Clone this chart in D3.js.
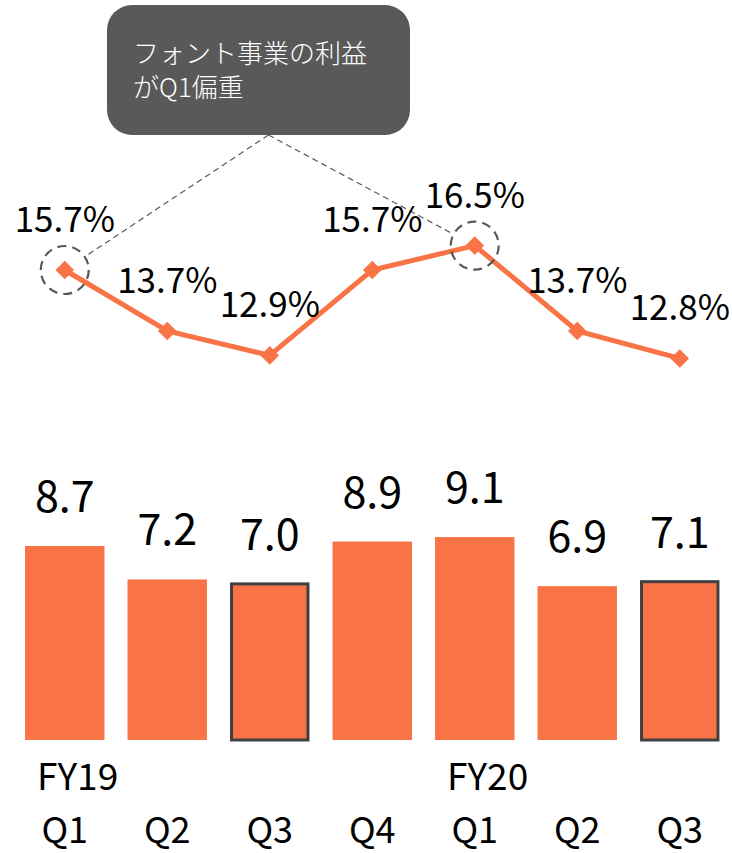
<!DOCTYPE html>
<html>
<head>
<meta charset="utf-8">
<script src="https://cdn.jsdelivr.net/npm/d3@7"></script>
<style>
  body { margin: 0; background: #fff; }
  svg { display: block; font-family: "Noto Sans CJK JP", "Noto Sans", sans-serif; }
</style>
</head>
<body>
<svg id="chart" width="732" height="853"></svg>
<script>
// Data
const quarters = ['Q1', 'Q2', 'Q3', 'Q4', 'Q1', 'Q2', 'Q3'];
const fiscalYears = ['FY19', '', '', '', 'FY20', '', ''];
const sales = [8.7, 7.2, 7.0, 8.9, 9.1, 6.9, 7.1];
const margins = [15.7, 13.7, 12.9, 15.7, 16.5, 13.7, 12.8];
const highlighted = [false, false, true, false, false, false, true]; // outlined bars (Q3)
const circled = [0, 4]; // points called out
const calloutLines = ['フォント事業の利益', 'がQ1偏重'];

const ORANGE = '#f87346';
const DARK = '#595959';

const svg = d3.select('#chart');
const idx = d3.range(quarters.length);

const x = d3.scaleBand()
  .domain(idx)
  .range([13.5, 731])
  .paddingInner(0.225)
  .paddingOuter(0.1125);

const yBar = d3.scaleLinear().domain([0, 10]).range([740, 517]);
const yLine = d3.scaleLinear().domain([10, 17]).range([443.85, 230.35]);
const cx = i => x(i) + x.bandwidth() / 2;

// Bars
svg.append('g').attr('class', 'bars')
  .selectAll('rect')
  .data(idx)
  .join('rect')
  .attr('x', i => x(i) + (highlighted[i] ? 1.5 : 0))
  .attr('y', i => yBar(sales[i]))
  .attr('width', i => x.bandwidth() - (highlighted[i] ? 3 : 0))
  .attr('height', i => yBar(0) - yBar(sales[i]))
  .attr('fill', ORANGE)
  .attr('stroke', i => (highlighted[i] ? '#404040' : 'none'))
  .attr('stroke-width', 3);

svg.append('g').attr('class', 'bar-labels')
  .selectAll('text')
  .data(idx)
  .join('text')
  .attr('x', cx)
  .attr('y', i => yBar(sales[i]) - 34)
  .attr('text-anchor', 'middle')
  .attr('font-size', 43)
  .attr('fill', '#000')
  .text(i => sales[i].toFixed(1));

// Axis labels
svg.append('g').attr('class', 'fy-labels')
  .selectAll('text')
  .data(idx.filter(i => fiscalYears[i]))
  .join('text')
  .attr('x', i => x(i) + 12)
  .attr('y', 790)
  .attr('font-size', 37)
  .text(i => fiscalYears[i]);

svg.append('g').attr('class', 'q-labels')
  .selectAll('text')
  .data(idx)
  .join('text')
  .attr('x', cx)
  .attr('y', 843)
  .attr('text-anchor', 'middle')
  .attr('font-size', 36)
  .text(i => quarters[i]);

// Callout
const box = { x: 107, y: 5, w: 303, h: 130 };
const anchor = [box.x + box.w / 2 + 10, box.y + box.h];
const R = 24;

svg.append('g').attr('class', 'callout-lines')
  .selectAll('line')
  .data(circled)
  .join('line')
  .attr('x1', anchor[0])
  .attr('y1', anchor[1])
  .attr('x2', i => {
    const dx = cx(i) - anchor[0], dy = yLine(margins[i]) - anchor[1];
    const d = Math.hypot(dx, dy);
    return cx(i) - dx / d * R;
  })
  .attr('y2', i => {
    const dx = cx(i) - anchor[0], dy = yLine(margins[i]) - anchor[1];
    const d = Math.hypot(dx, dy);
    return yLine(margins[i]) - dy / d * R;
  })
  .attr('stroke', DARK)
  .attr('stroke-width', 1.2)
  .attr('stroke-dasharray', '6,4');

svg.append('rect')
  .attr('x', box.x)
  .attr('y', box.y)
  .attr('width', box.w)
  .attr('height', box.h)
  .attr('rx', 25)
  .attr('fill', DARK);

svg.append('g').attr('class', 'callout-text')
  .selectAll('text')
  .data(calloutLines)
  .join('text')
  .attr('x', 133)
  .attr('y', (d, i) => 63 + i * 34)
  .attr('font-size', 26)
  .attr('font-weight', 300)
  .attr('fill', '#fff')
  .text(d => d);

// Line
const line = d3.line()
  .x(i => cx(i))
  .y(i => yLine(margins[i]));

svg.append('path')
  .datum(idx)
  .attr('d', line)
  .attr('fill', 'none')
  .attr('stroke', ORANGE)
  .attr('stroke-width', 5);

svg.append('g').attr('class', 'markers')
  .selectAll('path')
  .data(idx)
  .join('path')
  .attr('d', d3.symbol(d3.symbolDiamond2, 220))
  .attr('transform', i => `translate(${cx(i)},${yLine(margins[i])})`)
  .attr('fill', ORANGE);

svg.append('g').attr('class', 'circles')
  .selectAll('circle')
  .data(circled)
  .join('circle')
  .attr('cx', cx)
  .attr('cy', i => yLine(margins[i]))
  .attr('r', R)
  .attr('fill', 'none')
  .attr('stroke', DARK)
  .attr('stroke-width', 2.2)
  .attr('stroke-dasharray', '9,6');

svg.append('g').attr('class', 'line-labels')
  .selectAll('text')
  .data(idx)
  .join('text')
  .attr('x', cx)
  .attr('y', i => yLine(margins[i]) - 38)
  .attr('text-anchor', 'middle')
  .attr('font-size', 35)
  .attr('fill', '#000')
  .text(i => margins[i].toFixed(1) + '%');
</script>
</body>
</html>
